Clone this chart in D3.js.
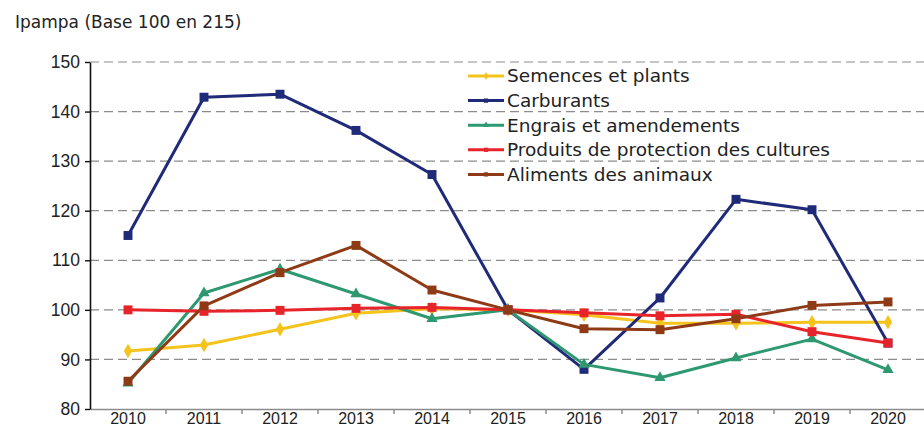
<!DOCTYPE html>
<html>
<head>
<meta charset="utf-8">
<script src="https://cdn.jsdelivr.net/npm/d3@7.9.0/dist/d3.min.js"></script>
<style>
  body { margin: 0; background: #fff; }
  svg { display: block; font-family: "DejaVu Sans", "Open Sans", sans-serif; }
</style>
</head>
<body>
<svg id="chart" width="924" height="430"></svg>
<script>
// years on the x axis
const years = ["2010", "2011", "2012", "2013", "2014", "2015", "2016", "2017", "2018", "2019", "2020"];
const yTicks = [80, 90, 100, 110, 120, 130, 140, 150];

// series values
const semences = [91.7, 92.9, 96.1, 99.3, 100.2, 100, 99.0, 97.3, 97.3, 97.5, 97.5];
const carburants = [115.0, 142.9, 143.5, 136.2, 127.3, 100, 88.0, 102.4, 122.3, 120.2, 93.3];
const engrais = [85.2, 103.4, 108.2, 103.2, 98.2, 100, 89.0, 86.3, 90.3, 94.1, 87.9];
const produits = [100, 99.7, 99.9, 100.3, 100.5, 100, 99.4, 98.8, 99.1, 95.6, 93.3];
const aliments = [85.6, 100.8, 107.5, 113.0, 104.0, 100, 96.2, 96.0, 98.2, 100.9, 101.6];

const series = [
  { name: "Semences et plants", values: semences, color: "#f4c31c", marker: "diamond" },
  { name: "Carburants", values: carburants, color: "#1f2a78", marker: "square" },
  { name: "Engrais et amendements", values: engrais, color: "#2e9970", marker: "triangle" },
  { name: "Produits de protection des cultures", values: produits, color: "#e8242b", marker: "square" },
  { name: "Aliments des animaux", values: aliments, color: "#8e3a17", marker: "square" }
];

const svg = d3.select("#chart");
const margin = { left: 90, right: -2, top: 62, bottom: 21 };
const W = 924, H = 430;

const x = d3.scaleBand().domain(years).range([margin.left, W - margin.right]);
const y = d3.scaleLinear().domain([80, 150]).range([H - margin.bottom, margin.top]);
const cx = d => x(d) + x.bandwidth() / 2;

// title
svg.append("text")
  .attr("x", 15).attr("y", 28)
  .attr("font-size", 17).attr("fill", "#222")
  .text("Ipampa (Base 100 en 215)");

// gridlines
svg.append("g").selectAll("line")
  .data(yTicks.filter(t => t > 80))
  .join("line")
  .attr("x1", margin.left).attr("x2", W)
  .attr("y1", d => y(d)).attr("y2", d => y(d))
  .attr("stroke", "#8c8c8c").attr("stroke-width", 1.2)
  .attr("stroke-dasharray", "9,5");

// x axis
const xAxis = svg.append("g")
  .attr("transform", `translate(0,${y(80)})`)
  .call(d3.axisBottom(x).tickSize(0).tickPadding(4));
xAxis.select(".domain").attr("stroke", "#8c8c8c").attr("stroke-width", 1.5);
xAxis.selectAll("text").attr("font-size", 16).attr("fill", "#222").attr("font-family", "inherit");
xAxis.append("g").selectAll("line")
  .data(years.slice(1))
  .join("line")
  .attr("x1", d => x(d)).attr("x2", d => x(d))
  .attr("y1", 0).attr("y2", 5)
  .attr("stroke", "#8c8c8c").attr("stroke-width", 1.5);

// y axis
const yAxis = svg.append("g")
  .attr("transform", `translate(${margin.left},0)`)
  .call(d3.axisLeft(y).tickValues(yTicks).tickSize(5).tickPadding(5).tickSizeOuter(0));
yAxis.select(".domain").attr("stroke", "#111").attr("stroke-width", 1.6);
yAxis.selectAll(".tick line").attr("stroke", "#111").attr("stroke-width", 1.4);
yAxis.selectAll("text").attr("font-size", 17.5).attr("fill", "#222").attr("font-family", "inherit");

// lines
const line = d3.line().x((d, i) => cx(years[i])).y(d => y(d));
const symbolOf = { diamond: d3.symbolDiamond, square: d3.symbolSquare, triangle: d3.symbolTriangle };
const sizeOf = { diamond: 60, square: 80, triangle: 55 };

const g = svg.append("g");
series.forEach(s => {
  g.append("path")
    .datum(s.values)
    .attr("d", line)
    .attr("fill", "none")
    .attr("stroke", s.color)
    .attr("stroke-width", 3)
    .attr("stroke-linejoin", "round");
});
series.forEach(s => {
  g.append("g").selectAll("path")
    .data(s.values)
    .join("path")
    .attr("transform", (d, i) => `translate(${cx(years[i])},${y(d)})`)
    .attr("d", d3.symbol(symbolOf[s.marker], sizeOf[s.marker]))
    .attr("fill", s.color);
});

// legend
const legend = svg.append("g").attr("transform", "translate(468,76)");
const items = legend.selectAll("g")
  .data(series)
  .join("g")
  .attr("transform", (d, i) => `translate(0,${i * 24.6})`);
items.append("line")
  .attr("x1", 0).attr("x2", 36)
  .attr("stroke", d => d.color).attr("stroke-width", 3);
items.append("path")
  .attr("transform", "translate(18,0)")
  .attr("d", d => d3.symbol(symbolOf[d.marker], 18)())
  .attr("fill", d => d.color);
items.append("text")
  .attr("x", 39).attr("dy", "0.35em")
  .attr("font-size", 18.5).attr("fill", "#222")
  .text(d => d.name);
</script>
</body>
</html>
